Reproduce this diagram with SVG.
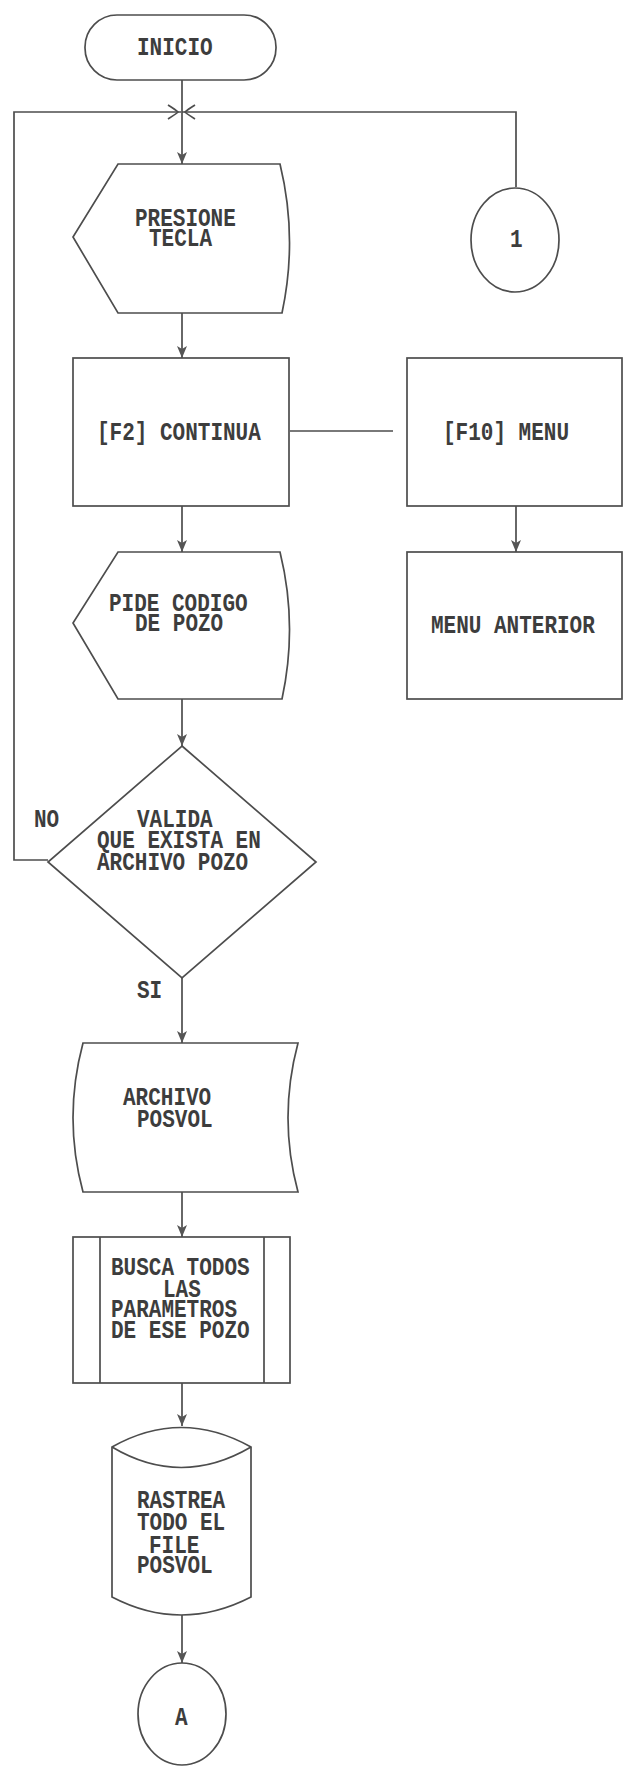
<svg xmlns="http://www.w3.org/2000/svg" width="623" height="1767" viewBox="0 0 623 1767">
<style>
.s{fill:#fff;stroke:#4d4d4d;stroke-width:1.7}
.c{fill:none;stroke:#4d4d4d;stroke-width:1.7}
.t{font-family:"Liberation Mono","DejaVu Sans Mono",monospace;font-size:21px;font-weight:bold;fill:#3d3d3d}
</style>
<defs>
<marker id="ah" markerUnits="userSpaceOnUse" markerWidth="14" markerHeight="12" refX="12" refY="5" orient="auto">
<path d="M0,0 L12,5 L0,10 L3,5 z" fill="#555"/>
</marker>
</defs>
<rect width="623" height="1767" fill="#fff"/>
<g id="connectors">
<path class="c" d="M182,80 V164" marker-end="url(#ah)"/>
<path class="c" d="M48,860 H14 V112 H181"/>
<path class="c" d="M168,105 Q176,110 178,112 Q176,114 168,119"/>
<path class="c" d="M516,187 V112 H182"/>
<path class="c" d="M195,105 Q187,110 185,112 Q187,114 195,119"/>
<path class="c" d="M182,313 V358" marker-end="url(#ah)"/>
<path class="c" d="M290,431 H393"/>
<path class="c" d="M516,506 V552" marker-end="url(#ah)"/>
<path class="c" d="M182,506 V552" marker-end="url(#ah)"/>
<path class="c" d="M182,699 V746" marker-end="url(#ah)"/>
<path class="c" d="M182,978 V1043" marker-end="url(#ah)"/>
<path class="c" d="M182,1192 V1237" marker-end="url(#ah)"/>
<path class="c" d="M182,1383 V1426" marker-end="url(#ah)"/>
<path class="c" d="M182,1615 V1663" marker-end="url(#ah)"/>
</g>
<g id="inicio">
<rect class="s" x="85" y="15" width="191" height="65" rx="32" ry="32"/>
<text class="t" transform="translate(137,55) scale(1,1.25)">INICIO</text>
</g>
<g id="conector1">
<ellipse class="s" cx="515" cy="240" rx="44" ry="52"/>
<text class="t" transform="translate(510,247) scale(1,1.25)">1</text>
</g>
<g id="presione">
<path class="s" d="M118,164 H280 Q298,238 282,313 H118 L73,237 Z"/>
<text class="t" transform="translate(135,226) scale(1,1.25)">PRESIONE</text>
<text class="t" transform="translate(149,246) scale(1,1.25)">TECLA</text>
</g>
<g id="f2">
<rect class="s" x="73" y="358" width="216" height="148"/>
<text class="t" transform="translate(97,440) scale(1,1.25)">[F2] CONTINUA</text>
</g>
<g id="f10">
<rect class="s" x="407" y="358" width="215" height="148"/>
<text class="t" transform="translate(443,440) scale(1,1.25)">[F10] MENU</text>
</g>
<g id="menuanterior">
<rect class="s" x="407" y="552" width="215" height="147"/>
<text class="t" transform="translate(431,633) scale(1,1.25)">MENU ANTERIOR</text>
</g>
<g id="pide">
<path class="s" d="M118,552 H280 Q298,625 282,699 H118 L73,623 Z"/>
<text class="t" transform="translate(109,611) scale(1,1.25)">PIDE CODIGO</text>
<text class="t" transform="translate(135,631) scale(1,1.25)">DE POZO</text>
</g>
<g id="valida">
<path class="s" d="M182,746 L316,862 L182,978 L48,862 Z"/>
<text class="t" transform="translate(137,827) scale(1,1.25)">VALIDA</text>
<text class="t" transform="translate(97,848) scale(1,1.25)">QUE EXISTA EN</text>
<text class="t" transform="translate(97,870) scale(1,1.25)">ARCHIVO POZO</text>
</g>
<g id="labels">
<text class="t" transform="translate(34,827) scale(1,1.25)">NO</text>
<text class="t" transform="translate(137,998) scale(1,1.25)">SI</text>
</g>
<g id="archivo">
<path class="s" d="M83,1043 H298 Q278,1118 298,1192 H83 Q63,1118 83,1043 Z"/>
<text class="t" transform="translate(123,1105) scale(1,1.25)">ARCHIVO</text>
<text class="t" transform="translate(137,1127) scale(1,1.25)">POSVOL</text>
</g>
<g id="busca">
<rect class="s" x="73" y="1237" width="217" height="146"/>
<path class="c" d="M100,1237 V1383 M264,1237 V1383"/>
<text class="t" transform="translate(111,1275) scale(1,1.25)">BUSCA TODOS</text>
<text class="t" transform="translate(163,1297) scale(1,1.25)">LAS</text>
<text class="t" transform="translate(111,1317) scale(1,1.25)">PARAMETROS</text>
<text class="t" transform="translate(111,1338) scale(1,1.25)">DE ESE POZO</text>
</g>
<g id="rastrea">
<path class="s" d="M112,1447 Q181,1408 251,1447 V1597 Q181,1633 112,1597 Z"/>
<path class="c" d="M112,1447 Q181,1488 251,1447"/>
<text class="t" transform="translate(137,1508) scale(1,1.25)">RASTREA</text>
<text class="t" transform="translate(137,1530) scale(1,1.25)">TODO EL</text>
<text class="t" transform="translate(149,1553) scale(1,1.25)">FILE</text>
<text class="t" transform="translate(137,1573) scale(1,1.25)">POSVOL</text>
</g>
<g id="conectorA">
<ellipse class="s" cx="182" cy="1714" rx="44" ry="51"/>
<text class="t" transform="translate(175,1725) scale(1,1.25)">A</text>
</g>
</svg>
